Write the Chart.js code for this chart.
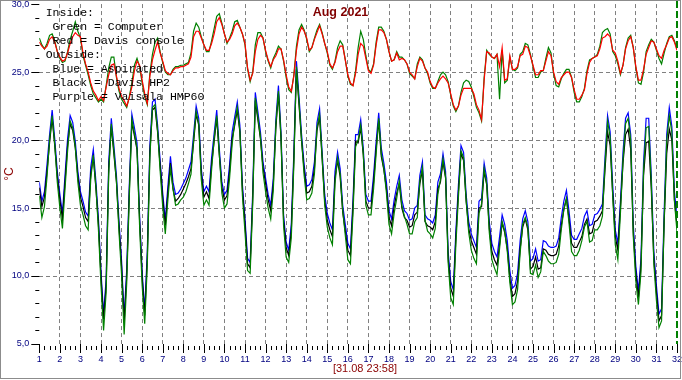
<!DOCTYPE html>
<html>
<head>
<meta charset="utf-8">
<script src="https://cdn.jsdelivr.net/npm/chart.js@4.4.0/dist/chart.umd.min.js"></script>
<style>
html,body{margin:0;padding:0;background:#fff;}
canvas{display:block;}
</style>
</head>
<body>
<canvas id="c" width="682" height="380" style="width:682px;height:380px"></canvas>
<script>
// ---- texts ----
const chartTitle = 'Aug 2021';
const timeStamp = '[31.08 23:58]';
const yUnit = '°C';
const legendLines = ['Inside:', ' Green = Computer', ' Red = Davis console', 'Outside:', ' Blue = Aspirated', ' Black = Davis HP2', ' Purple = Vaisala HMP60'];
const dayLabels = ['1','2','3','4','5','6','7','8','9','10','11','12','13','14','15','16','17','18','19','20','21','22','23','24','25','26','27','28','29','30','31','32'];
const yTickLabels = {5:'5,0',10:'10,0',15:'15,0',20:'20,0',25:'25,0',30:'30,0'};

// ---- data: samples every 3 hours from 01.08 00:00, last sample 31.08 23:58 ----
const insideDavis = [
27.2,26.9,26.7,26.9,27.4,27.6,27.2,26.5,
26.1,25.8,25.9,26.4,27.1,27.6,27.9,27.7,
27.6,26.4,25.6,25.0,24.2,23.6,23.3,22.9,
23.2,22.9,23.9,24.8,25.5,25.6,24.7,23.8,
23.2,22.9,22.5,23.1,23.9,25.1,25.8,25.5,
24.4,23.4,22.7,24.7,25.9,26.6,27.2,26.4,
25.8,25.1,24.9,24.8,25.1,25.3,25.3,25.4,
25.4,25.5,25.6,26.1,27.6,28.0,28.0,27.5,
27.0,26.6,26.6,27.1,27.8,28.7,29.0,28.5,
27.8,27.2,27.4,27.8,28.4,28.6,28.3,27.8,
27.1,25.3,24.4,24.9,26.5,27.4,27.7,27.5,
26.6,25.9,25.4,25.9,26.2,26.7,26.7,25.9,
24.8,23.9,23.6,24.7,26.6,27.8,28.3,28.0,
27.5,26.6,26.8,27.4,27.9,28.4,27.8,27.1,
26.5,25.6,25.3,25.7,26.5,26.9,26.9,25.9,
24.8,24.2,24.0,24.9,26.3,27.1,26.9,26.0,
25.1,24.9,25.5,27.0,28.1,28.1,27.9,27.4,
26.5,25.8,25.9,26.4,25.9,26.0,25.9,25.6,
25.0,24.8,24.5,25.4,26.0,25.8,25.3,25.0,
24.3,23.9,23.8,24.2,24.5,24.7,24.5,24.2,
23.4,22.6,22.2,22.5,23.3,23.8,23.8,23.8,
23.8,23.4,22.6,22.2,21.5,24.4,26.5,26.4,
26.1,26.0,26.3,25.4,26.8,24.4,24.5,26.2,
25.2,25.2,25.4,26.2,26.3,26.9,26.8,26.2,
25.5,24.8,24.8,25.1,25.1,25.8,26.5,26.2,
25.0,24.3,24.1,24.6,24.8,25.0,25.0,24.6,
23.7,23.0,23.0,23.3,23.7,24.9,25.7,26.0,
26.1,26.2,26.7,27.5,27.6,27.8,27.6,26.6,
26.4,25.8,24.9,25.5,26.7,27.3,27.6,26.8,
25.4,24.4,24.4,25.2,26.3,26.8,27.3,27.2,
26.7,26.2,26.0,26.6,27.0,27.5,27.6,27.2,26.6];

const insideComputer = [
27.5,27.0,26.7,27.1,27.7,27.8,27.3,26.5,
26.0,25.7,25.8,26.5,27.4,28.0,28.7,28.0,
27.5,26.2,25.5,24.8,24.0,23.4,23.1,22.8,
23.0,22.8,24.0,25.3,26.1,26.1,24.6,23.6,
23.0,22.7,22.4,23.2,24.2,25.5,26.0,25.4,
24.2,23.2,22.6,24.9,26.3,27.2,27.5,26.5,
25.7,25.0,24.8,24.8,25.2,25.4,25.4,25.5,
25.5,25.6,25.7,26.4,28.0,28.6,28.3,27.6,
27.0,26.5,26.5,27.3,28.2,29.1,29.3,28.6,
27.8,27.1,27.5,28.0,28.7,28.8,28.3,27.8,
27.0,25.2,24.3,25.0,27.0,27.9,27.9,27.5,
26.5,25.8,25.3,26.0,26.4,26.9,26.7,25.8,
24.6,23.7,23.5,24.8,26.9,28.1,28.5,28.1,
27.4,26.5,26.8,27.5,28.1,28.5,27.9,27.1,
26.4,25.5,25.2,25.8,26.8,27.3,27.0,25.9,
24.7,24.1,24.0,25.1,26.8,28.0,27.4,26.2,
25.2,25.0,25.6,27.2,28.3,28.3,28.0,27.4,
26.5,25.8,25.9,26.5,26.1,26.1,25.9,25.6,
24.9,24.7,24.5,25.6,26.1,25.9,25.3,24.9,
24.2,23.8,23.8,24.3,24.8,25.0,24.8,24.3,
23.3,22.5,22.1,22.5,23.5,24.2,24.4,24.3,
23.9,23.2,22.4,22.0,21.4,24.6,26.6,26.3,
26.1,26.0,26.3,23.0,26.6,24.2,24.4,26.1,
25.2,25.1,25.3,26.3,26.5,27.1,27.0,26.3,
25.4,24.6,24.6,25.0,25.1,26.0,26.8,26.4,
24.9,24.0,23.9,24.5,24.9,25.2,25.2,24.6,
23.5,22.8,22.8,23.2,23.8,25.1,25.9,26.0,
26.1,26.3,26.9,27.9,28.1,28.2,27.8,26.5,
26.2,25.6,24.8,25.5,26.8,27.5,27.7,26.8,
25.3,24.2,24.1,25.0,26.5,27.0,27.4,27.2,
26.6,26.0,25.6,26.4,27.1,27.6,27.7,27.3,26.7];

const outsideAspirated = [
16.9,15.5,16.2,18.2,20.4,22.2,20.1,17.7,
16.0,14.6,17.4,20.1,21.8,21.3,19.9,17.7,
16.2,15.5,14.7,14.4,18.0,19.3,17.0,14.2,
10.3,7.2,9.8,18.4,21.6,19.6,17.4,14.0,
11.1,7.0,10.5,16.7,21.9,20.9,19.8,14.5,
10.3,7.5,11.8,19.6,22.8,23.0,21.1,18.5,
16.1,14.1,16.6,18.8,16.9,16.0,16.1,16.4,
16.8,17.2,17.8,18.4,20.4,22.5,21.6,17.9,
16.2,16.6,16.2,18.7,20.5,22.2,19.4,16.9,
16.0,16.3,18.2,20.6,21.7,22.8,21.1,16.7,
14.2,11.3,11.0,16.2,23.5,22.1,20.6,18.4,
17.2,16.0,15.2,17.2,21.5,24.0,20.6,14.5,
12.5,11.9,13.8,19.1,25.8,23.2,20.4,18.2,
16.6,16.7,17.1,18.4,21.3,22.3,19.1,16.0,
14.6,13.9,13.4,17.7,19.1,17.9,15.2,13.8,
12.4,12.0,15.6,20.4,20.4,21.5,19.4,16.0,
15.5,15.5,17.4,19.9,22.0,19.4,18.3,16.9,
14.8,14.2,15.6,16.6,17.4,15.6,14.8,14.6,
14.1,14.2,15.0,15.2,17.4,18.4,14.5,14.2,
14.1,13.9,14.5,16.9,17.5,19.0,17.7,11.8,
9.6,9.0,13.3,16.7,19.6,19.1,16.0,14.0,
13.1,12.6,12.1,15.5,15.7,18.3,17.2,14.0,
12.4,11.8,11.4,12.9,14.5,13.8,12.6,10.4,
9.1,9.3,10.2,12.6,14.2,14.8,14.0,11.1,
11.3,12.0,11.1,11.2,12.6,12.5,12.2,12.1,
12.1,12.2,12.8,14.3,15.5,16.3,14.8,13.0,
12.7,12.7,13.1,13.5,14.4,14.8,13.7,13.8,
14.5,14.6,14.9,15.3,18.7,21.8,20.6,16.7,
13.4,12.4,15.5,19.1,21.6,22.0,20.4,13.8,
10.7,8.9,11.3,18.4,21.6,21.6,17.4,11.8,
9.3,7.2,7.6,14.7,20.4,22.4,21.0,16.2,14.3];

const outsideDavisHP2 = [
16.5,15.1,15.8,17.7,19.8,21.6,19.6,17.3,
15.6,14.2,16.9,19.6,21.2,20.7,19.4,17.3,
15.8,15.1,14.3,14.0,17.5,18.7,16.5,13.8,
9.9,6.8,9.3,17.9,21.0,19.0,16.9,13.6,
10.7,6.6,10.0,16.2,21.3,20.3,19.3,14.1,
9.9,7.1,11.3,19.1,22.2,22.4,20.6,18.1,
15.7,13.7,16.1,18.3,16.4,15.5,15.7,16.0,
16.4,16.8,17.3,17.9,19.8,21.9,21.1,17.5,
15.8,16.2,15.7,18.2,19.9,21.6,18.9,16.5,
15.6,15.9,17.7,20.1,21.1,22.2,20.6,16.3,
13.8,10.9,10.6,15.7,22.9,21.5,20.1,18.0,
16.8,15.6,14.8,16.7,20.9,23.4,20.1,14.1,
12.1,11.5,13.3,18.6,25.2,22.6,19.9,17.8,
16.1,16.2,16.6,17.9,20.7,21.7,18.6,15.5,
14.1,13.4,12.9,17.2,18.5,17.3,14.7,13.3,
11.9,11.5,15.1,19.9,19.8,20.9,18.9,15.5,
15.0,15.0,16.9,19.4,21.4,18.8,17.8,16.4,
14.3,13.7,15.1,16.1,16.8,15.0,14.3,14.1,
13.6,13.7,14.5,14.7,16.8,17.8,14.0,13.7,
13.6,13.4,14.0,16.4,16.9,18.4,17.2,11.3,
9.1,8.5,12.8,16.2,19.0,18.5,15.5,13.5,
12.6,12.1,11.6,15.0,15.1,17.7,16.7,13.5,
11.8,11.2,10.8,12.3,13.9,13.2,12.0,9.8,
8.5,8.7,9.6,12.0,13.6,14.2,13.4,10.5,
10.7,11.4,10.5,10.6,12.0,11.9,11.6,11.5,
11.5,11.6,12.2,13.7,14.9,15.7,14.2,12.4,
12.1,12.1,12.5,12.9,13.8,14.2,13.1,13.2,
14.0,14.1,14.4,14.8,17.8,20.6,19.6,16.0,
12.9,11.9,15.0,18.3,20.4,20.8,19.3,13.2,
10.2,8.4,10.8,17.4,19.8,19.9,16.4,11.2,
8.8,6.7,7.1,13.9,19.0,20.8,20.0,15.6,13.7];

const outsideVaisala = [
15.9,14.3,15.1,17.3,20.0,21.8,19.7,16.9,
15.0,13.5,16.4,19.2,21.4,20.9,19.5,16.9,
15.2,14.5,13.7,13.4,17.1,18.9,16.6,13.4,
9.3,6.0,8.8,17.5,21.2,19.2,17.0,13.2,
10.1,5.7,9.5,15.8,21.5,20.5,19.4,13.7,
9.3,6.5,10.8,18.7,22.4,22.6,20.7,17.7,
15.1,13.1,15.6,17.9,16.4,15.2,15.3,15.6,
15.8,16.2,16.8,17.5,20.0,22.1,21.2,17.1,
15.2,15.6,15.2,17.8,20.1,21.8,19.0,16.1,
15.0,15.3,17.2,19.7,21.3,22.4,20.7,15.9,
13.2,10.4,10.2,15.3,23.1,21.7,20.2,17.6,
16.2,15.0,14.2,16.3,21.1,23.6,20.2,13.7,
11.4,11.0,12.8,18.2,25.4,22.8,20.0,17.4,
15.6,15.7,16.1,17.5,20.9,21.9,18.7,15.2,
13.6,12.8,12.3,16.8,18.7,17.5,14.8,13.0,
11.2,10.9,14.6,19.5,20.0,21.1,19.0,15.2,
14.5,14.5,16.4,19.0,21.6,19.0,17.9,16.1,
13.8,13.1,14.6,15.7,17.0,15.2,14.4,13.8,
13.1,13.1,14.0,14.3,17.0,18.0,14.1,13.3,
13.1,12.8,13.5,16.0,17.1,18.6,17.3,11.0,
8.4,7.9,12.3,15.8,19.2,18.7,15.6,13.2,
11.9,11.3,10.9,14.6,15.3,17.9,16.8,13.2,
11.2,10.6,10.1,12.0,14.0,13.3,11.8,9.5,
7.9,8.1,9.0,11.7,13.8,14.3,13.6,10.2,
10.1,10.8,9.9,10.3,11.8,11.5,11.1,10.9,
10.9,11.0,11.6,13.4,14.9,15.7,13.9,11.8,
11.5,11.5,11.9,12.6,13.6,14.0,12.5,12.6,
13.4,13.4,13.7,14.4,18.2,21.4,20.2,15.9,
12.3,11.2,14.6,18.5,21.2,21.6,20.0,12.9,
9.6,7.9,10.3,17.8,20.9,21.0,16.9,10.9,
8.2,6.2,6.7,14.0,19.9,21.8,20.6,15.5,13.3];

// sample times in days after 01.08 00:00 (3-hour steps, last one at 23:58 on day 31)
const sampleDays = insideDavis.map((_, i) => i < insideDavis.length - 1 ? i * 3 / 24 : 30 + 1438 / 1440);
const toPoints = arr => arr.map((v, i) => ({x: sampleDays[i], y: v}));

const GRID = '#808080';
const decor = {
  id: 'decor',
  afterDraw(chart) {
    const {ctx, chartArea: a, scales: {x, y}} = chart;
    ctx.save();
    // tick marks (major + minor)
    ctx.strokeStyle = '#000';
    ctx.lineWidth = 1;
    ctx.beginPath();
    for (let v = 5; v <= 30; v++) {
      const py = Math.round(y.getPixelForValue(v)) + 0.5;
      const len = v % 5 === 0 ? 8 : 4;
      ctx.moveTo(a.left - len, py); ctx.lineTo(a.left, py);
    }
    for (let i = 0; i <= 124; i++) {
      const px = Math.round(x.getPixelForValue(i / 4)) + 0.5;
      if (i % 4 === 0) { ctx.moveTo(px, a.bottom); ctx.lineTo(px, a.bottom + 9); }
      else { ctx.moveTo(px, a.bottom + 2); ctx.lineTo(px, a.bottom + 6); }
    }
    ctx.stroke();
    // current time marker
    const ex = x.getPixelForValue(31);
    ctx.strokeStyle = '#008000';
    ctx.lineWidth = 2;
    ctx.setLineDash([7, 3]);
    ctx.beginPath(); ctx.moveTo(ex, 1); ctx.lineTo(ex, a.bottom); ctx.stroke();
    ctx.setLineDash([]);
    // legend text
    ctx.fillStyle = '#000';
    ctx.font = '11.5px "Liberation Mono", monospace';
    ctx.textAlign = 'left';
    ctx.textBaseline = 'middle';
    legendLines.forEach((t, i) => ctx.fillText(t, 45.7, 13.3 + i * 13.9));
    // title
    ctx.fillStyle = '#800000';
    ctx.font = 'bold 12.5px "Liberation Sans", Arial, sans-serif';
    ctx.textAlign = 'center';
    ctx.fillText(chartTitle, 340.5, 13);
    // time stamp
    ctx.fillStyle = '#8B0000';
    ctx.font = '11px "Liberation Sans", Arial, sans-serif';
    ctx.fillText(timeStamp, 365, 369);
    // frame
    ctx.strokeStyle = '#8c8c8c';
    ctx.lineWidth = 1;
    ctx.strokeRect(0.5, 0.5, 680, 378);
    ctx.restore();
  }
};

const ds = (label, data, color) => ({label, data: toPoints(data), borderColor: color, backgroundColor: color, borderWidth: 1.2, pointRadius: 0, tension: 0, fill: false});

new Chart(document.getElementById('c'), {
  type: 'line',
  data: {
    datasets: [
      ds('Davis console', insideDavis, '#ff0000'),
      ds('Computer', insideComputer, '#008000'),
      ds('Vaisala HMP60', outsideVaisala, '#008000'),
      ds('Davis HP2', outsideDavisHP2, '#000000'),
      ds('Aspirated', outsideAspirated, '#0000ff')
    ]
  },
  options: {
    responsive: false,
    animation: false,
    devicePixelRatio: 1,
    layout: {padding: {left: 0, right: 4.3, top: 4, bottom: 0}},
    plugins: {legend: {display: false}, tooltip: {enabled: false}, title: {display: false}},
    scales: {
      x: {
        type: 'linear', min: 0, max: 31,
        afterFit: s => { s.height = 36; },
        border: {display: false, dash: [4, 3]},
        grid: {drawTicks: true, tickLength: 10, tickColor: 'rgba(0,0,0,0)', lineWidth: 1,
          color: c => (c.tick && Number.isInteger(c.tick.value) && c.tick.value > 0 && c.tick.value < 31) ? GRID : 'rgba(0,0,0,0)'},
        ticks: {stepSize: 0.25, maxTicksLimit: 200, autoSkip: false, maxRotation: 0, minRotation: 0, padding: 0,
          color: '#000080', font: {family: '"Liberation Sans", Arial, sans-serif', size: 9},
          callback: v => Number.isInteger(v) ? dayLabels[v] : ''}
      },
      y: {
        min: 5, max: 30,
        afterFit: s => { s.width = 39.3; },
        border: {display: false, dash: [4, 3]},
        grid: {drawTicks: true, tickLength: 10, tickColor: 'rgba(0,0,0,0)', lineWidth: 1,
          color: c => (c.tick && c.tick.value % 5 === 0 && c.tick.value > 5 && c.tick.value < 30) ? GRID : 'rgba(0,0,0,0)'},
        ticks: {stepSize: 1, maxTicksLimit: 100, autoSkip: false, padding: 0,
          color: '#000080', font: {family: '"Liberation Sans", Arial, sans-serif', size: 9, lineHeight: 0.9},
          callback: v => yTickLabels[v] || ''},
        title: {display: true, text: yUnit, color: '#8B0000', font: {family: '"Liberation Sans", Arial, sans-serif', size: 12}, padding: {top: 2, bottom: 0}}
      }
    }
  },
  plugins: [decor]
});
</script>
</body>
</html>
